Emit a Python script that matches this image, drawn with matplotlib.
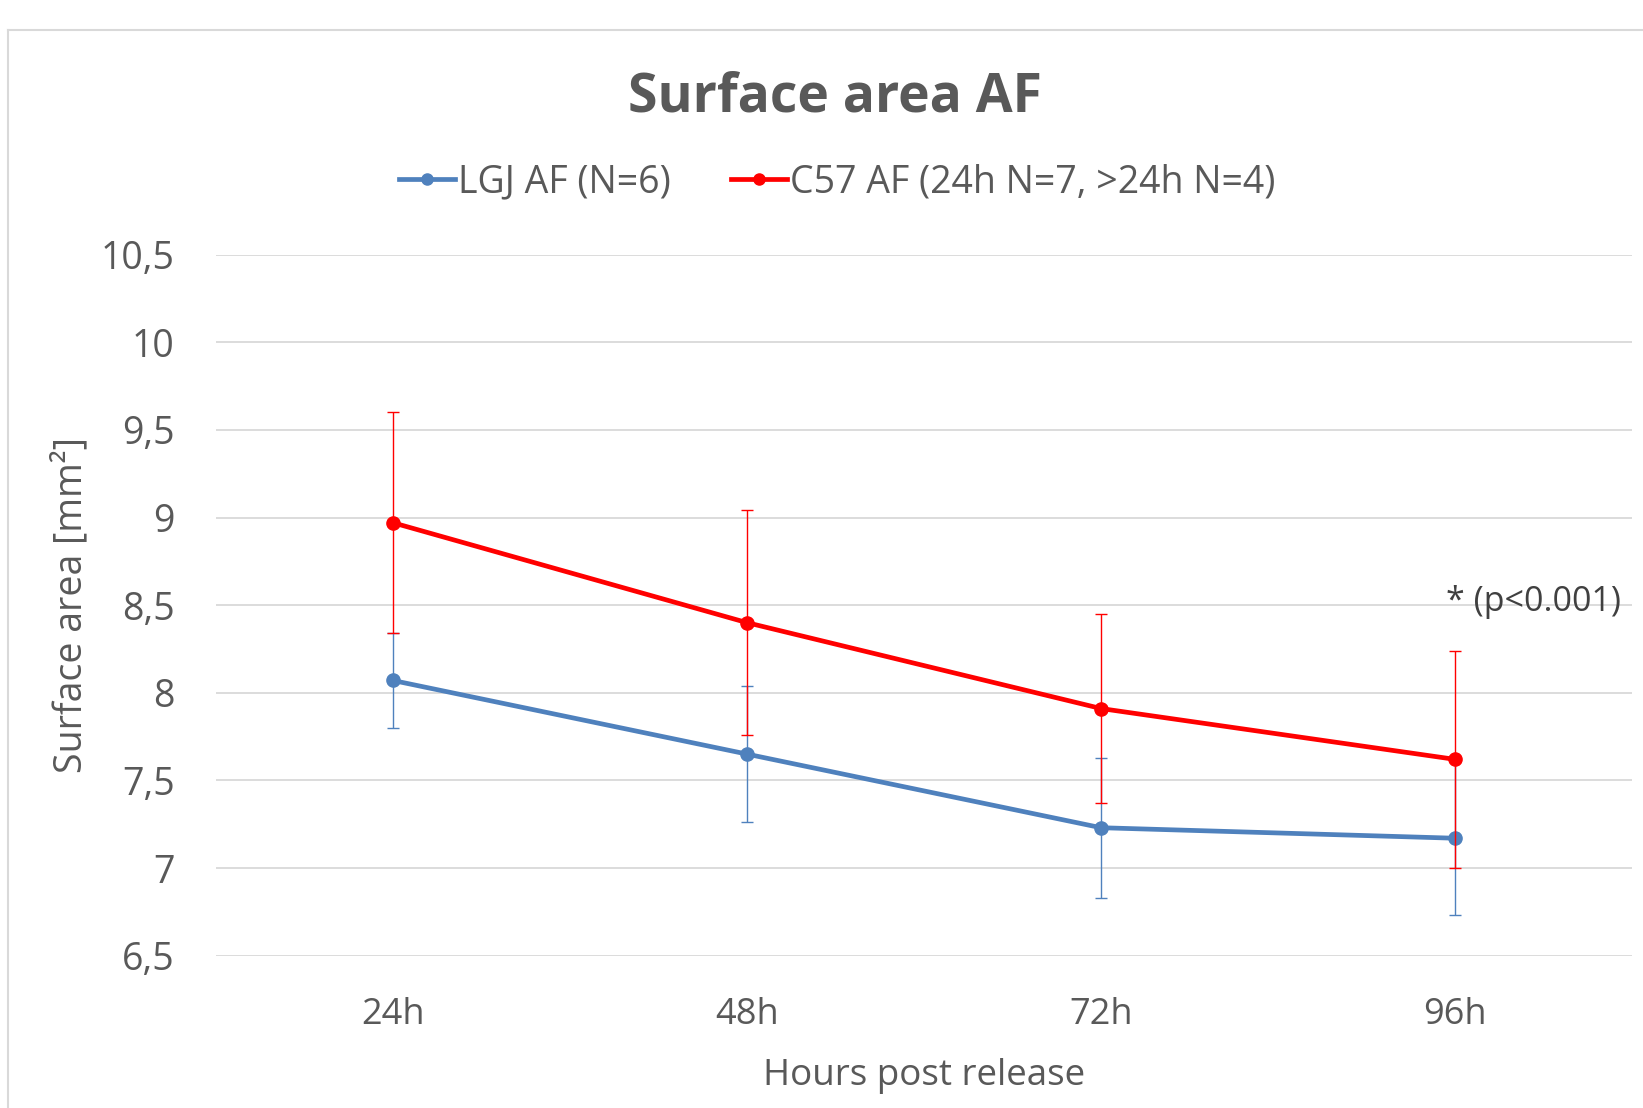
import matplotlib.pyplot as plt
from matplotlib.lines import Line2D

plt.rcParams['font.family'] = ['Open Sans', 'DejaVu Sans']

categories = ['24h', '48h', '72h', '96h']
lgj_mean = [8.07, 7.65, 7.23, 7.17]
lgj_err = [0.27, 0.39, 0.40, 0.44]
c57_mean = [8.97, 8.40, 7.91, 7.62]
c57_err = [0.63, 0.64, 0.54, 0.62]
y_ticks = [6.5, 7, 7.5, 8, 8.5, 9, 9.5, 10, 10.5]
y_tick_labels = ['6,5', '7', '7,5', '8', '8,5', '9', '9,5', '10', '10,5']

blue = '#4F81BD'
red = '#FF0000'
txt = '#595959'

fig = plt.figure(figsize=(16.43, 11.08), dpi=100)
ax = fig.add_axes([0.1315, 0.1375, 0.8618, 0.6327])

x = list(range(len(categories)))
ax.errorbar(x, lgj_mean, yerr=lgj_err, color=blue, lw=3.4, marker='o', ms=9.5,
            ecolor=blue, elinewidth=1.0, capsize=4, capthick=1.0, zorder=3)
ax.errorbar(x, c57_mean, yerr=c57_err, color=red, lw=3.4, marker='o', ms=9.5,
            ecolor=red, elinewidth=1.0, capsize=4, capthick=1.0, zorder=4)

ax.set_xlim(-0.5, 3.5)
ax.set_ylim(6.5, 10.5)
ax.set_xticks(x)
ax.set_xticklabels(categories)
ax.set_yticks(y_ticks)
ax.set_yticklabels(y_tick_labels)
ax.tick_params(length=0, colors=txt)
ax.tick_params(axis='y', labelsize=27, pad=30)
ax.tick_params(axis='x', labelsize=26, pad=30)
ax.grid(axis='y', color='#D9D9D9', lw=1.3)
ax.set_axisbelow(True)
for s in ax.spines.values():
    s.set_visible(False)

ax.set_xlabel('Hours post release', fontsize=26.5, color=txt, labelpad=18)
ax.set_ylabel('Surface area [mm²]', fontsize=27, color=txt, labelpad=7)

ax.text(2.975, 8.52, '* (p<0.001)', fontsize=24.5, color='#404040', ha='left', va='center')

fig.text(0.508, 0.912, 'Surface area AF', fontsize=38.5, fontweight='bold',
         color=txt, ha='center', va='center')

handles = [Line2D([], [], color=blue, lw=3.4, marker='o', ms=8),
           Line2D([], [], color=red, lw=3.4, marker='o', ms=8)]
labels = ['LGJ AF (N=6)', 'C57 AF (24h N=7, >24h N=4)']
ax.legend(handles, labels, loc='center', bbox_to_anchor=(0.4386, 1.103), ncol=2,
          frameon=False, fontsize=27, labelcolor=txt, handlelength=1.5,
          handletextpad=0.08, columnspacing=1.6)

# chart frame edges
fig.add_artist(Line2D([8 / 1643, 8 / 1643], [0, 1 - 30 / 1108], color='#D9D9D9', lw=1.5))
fig.add_artist(Line2D([8 / 1643, 1], [1 - 30 / 1108, 1 - 30 / 1108], color='#D9D9D9', lw=1.5))

fig.savefig('out.png', dpi=100)
